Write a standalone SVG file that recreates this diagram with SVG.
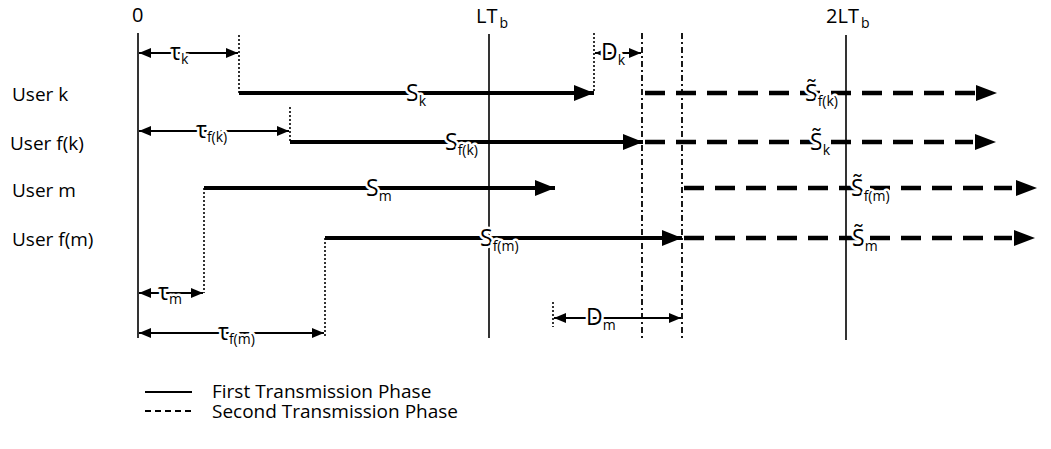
<svg xmlns="http://www.w3.org/2000/svg" width="1051" height="449" viewBox="0 0 1051 449">
<style>
text{font-family:"Open Sans","Liberation Sans",sans-serif;fill:#000}
.lbl{font-size:19px}
.sig{font-size:23px;paint-order:stroke;stroke:#fff;stroke-width:5px;stroke-linejoin:round}
.sub{font-size:14px}
.axis{stroke:#000;stroke-width:1.6;fill:none}
.dot{stroke:#000;stroke-width:1.6;stroke-dasharray:2 2;fill:none}
.dd{stroke:#000;stroke-width:1.8;stroke-dasharray:6 3 2 3;fill:none}
.solid{stroke:#000;stroke-width:4;fill:none}
.dash{stroke:#000;stroke-width:4.5;stroke-dasharray:20 11;fill:none}
.dim{stroke:#000;stroke-width:1.8;fill:none}
.leg{font-size:19px}
</style>
<defs>
<marker id="big" viewBox="0 0 20 16" refX="20" refY="8" markerWidth="20" markerHeight="16" markerUnits="userSpaceOnUse" orient="auto"><path d="M0,0L20,8L0,16z" fill="#000"/></marker>
<marker id="sm" viewBox="0 0 12 10" refX="12" refY="5" markerWidth="12" markerHeight="10" markerUnits="userSpaceOnUse" orient="auto-start-reverse"><path d="M0,0L12,5L0,10z" fill="#000"/></marker>
</defs>

<g id="axes">
<line class="axis" x1="138" y1="33" x2="138" y2="338"/>
<line class="axis" x1="489" y1="34" x2="489" y2="338"/>
<line class="axis" x1="846" y1="35" x2="846" y2="340"/>
<text x="132" y="22" style="font-size:20px">0</text>
<text x="476" y="23" style="font-size:20px">LT<tspan class="sub" dx="2" dy="5">b</tspan></text>
<text x="826" y="23" style="font-size:20px">2LT<tspan class="sub" dx="2" dy="5">b</tspan></text>
<line class="dd" x1="642" y1="33" x2="642" y2="341"/>
<line class="dd" x1="682" y1="33" x2="682" y2="341"/>
</g>

<g id="labels">
<text class="lbl" x="12" y="101">User k</text>
<text class="lbl" x="10" y="150">User f(k)</text>
<text class="lbl" x="12" y="197">User m</text>
<text class="lbl" x="12" y="246">User f(m)</text>
</g>

<g id="connectors">
<line class="dot" x1="239" y1="35" x2="239" y2="93"/>
<line class="solid" x1="239" y1="93" x2="594" y2="93" marker-end="url(#big)"/>
<line class="dot" x1="594" y1="33" x2="594" y2="92"/>
<line class="dash" x1="645" y1="93" x2="975" y2="93"/>
<path d="M976,85L997,93L976,101z" fill="#000"/>
<line class="dot" x1="290" y1="107" x2="290" y2="142"/>
<line class="solid" x1="290" y1="142" x2="643" y2="142" marker-end="url(#big)"/>
<line class="dash" x1="645" y1="142" x2="973" y2="142"/>
<path d="M975,134L996,142L975,150z" fill="#000"/>
<line class="dot" x1="204" y1="188" x2="204" y2="293"/>
<line class="solid" x1="204" y1="188" x2="555" y2="188" marker-end="url(#big)"/>
<line class="dash" x1="684" y1="188" x2="1012" y2="188"/>
<path d="M1016,180L1037,188L1016,196z" fill="#000"/>
<line class="dot" x1="325" y1="238" x2="325" y2="338"/>
<line class="solid" x1="325" y1="238" x2="682" y2="238" marker-end="url(#big)"/>
<line class="dash" x1="684" y1="238" x2="1012" y2="238"/>
<path d="M1014,230L1035,238L1014,246z" fill="#000"/>
<line class="dim" x1="139" y1="53" x2="238" y2="53" marker-start="url(#sm)" marker-end="url(#sm)"/>
<line class="dim" x1="139" y1="131" x2="289" y2="131" marker-start="url(#sm)" marker-end="url(#sm)"/>
<line class="dim" x1="139" y1="293" x2="203" y2="293" marker-start="url(#sm)" marker-end="url(#sm)"/>
<line class="dim" x1="139" y1="333" x2="324" y2="333" marker-start="url(#sm)" marker-end="url(#sm)"/>
<line class="dim" x1="595" y1="53" x2="641" y2="53" marker-start="url(#sm)" marker-end="url(#sm)"/>
<line class="dot" x1="553" y1="302" x2="553" y2="327"/>
<line class="dim" x1="554" y1="318" x2="681" y2="318" marker-start="url(#sm)" marker-end="url(#sm)"/>
</g>

<g id="signal-labels">
<text class="sig" x="406" y="101">S<tspan class="sub" dy="5">k</tspan></text>
<text class="sig" x="445" y="150">S<tspan class="sub" dy="5">f(k)</tspan></text>
<text class="sig" x="366" y="196">S<tspan class="sub" dy="5">m</tspan></text>
<text class="sig" x="480" y="246">S<tspan class="sub" dy="5">f(m)</tspan></text>
<text class="sig" x="805" y="101">S̃<tspan class="sub" dy="5">f(k)</tspan></text>
<text class="sig" x="810" y="150">S̃<tspan class="sub" dy="5">k</tspan></text>
<text class="sig" x="851" y="196">S̃<tspan class="sub" dy="5">f(m)</tspan></text>
<text class="sig" x="852" y="246">S̃<tspan class="sub" dy="5">m</tspan></text>
<text class="sig" x="170" y="60">τ<tspan class="sub" dy="4">k</tspan></text>
<text class="sig" x="196" y="138">τ<tspan class="sub" dy="4">f(k)</tspan></text>
<text class="sig" x="158" y="300">τ<tspan class="sub" dy="4">m</tspan></text>
<text class="sig" x="218" y="340">τ<tspan class="sub" dy="4">f(m)</tspan></text>
<text class="sig" x="601" y="60">D<tspan class="sub" dy="5">k</tspan></text>
<text class="sig" x="586" y="325">D<tspan class="sub" dy="5">m</tspan></text>
</g>

<g id="legend">
<line x1="145" y1="392" x2="192" y2="392" stroke="#000" stroke-width="2"/>
<line x1="145" y1="411" x2="192" y2="411" stroke="#000" stroke-width="2" stroke-dasharray="6 4"/>
<text class="leg" x="212" y="398">First Transmission Phase</text>
<text class="leg" x="212" y="418">Second Transmission Phase</text>
</g>
</svg>
